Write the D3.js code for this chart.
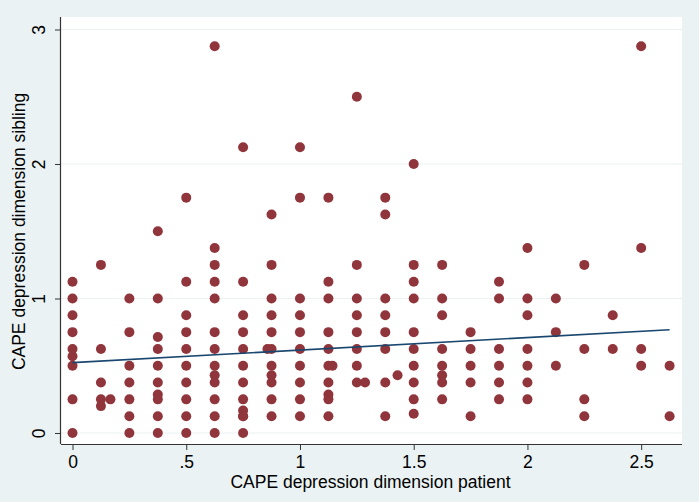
<!DOCTYPE html>
<html><head><meta charset="utf-8">
<script src="https://cdn.jsdelivr.net/npm/d3@7/dist/d3.min.js"></script>
<style>body{margin:0;background:#eaf2f3;}svg{display:block;font-family:"Liberation Sans",Arial,sans-serif;}</style>
</head><body>
<script>
// x = CAPE depression dimension patient, y = CAPE depression dimension sibling
const xValues = [
 0,0,0,0,0,0,0,0,0,
 0.125,0.125,0.125,0.125,0.125,0.1667,
 0.25,0.25,0.25,0.25,0.25,0.25,0.25,
 0.375,0.375,0.375,0.375,0.375,0.375,0.375,0.375,0.375,0.375,
 0.5,0.5,0.5,0.5,0.5,0.5,0.5,0.5,0.5,0.5,
 0.625,0.625,0.625,0.625,0.625,0.625,0.625,0.625,0.625,0.625,0.625,0.625,0.625,
 0.75,0.75,0.75,0.75,0.75,0.75,0.75,0.75,0.75,0.75,0.75,0.75,
 0.857,
 0.875,0.875,0.875,0.875,0.875,0.875,0.875,0.875,0.875,0.875,0.875,
 1,1,1,1,1,1,1,1,1,1,
 1.125,1.125,1.125,1.125,1.125,1.125,1.125,1.125,1.125,1.125,1.143,
 1.25,1.25,1.25,1.25,1.25,1.25,1.25,1.25,1.286,
 1.375,1.375,1.375,1.375,1.375,1.375,1.375,1.375,1.429,
 1.5,1.5,1.5,1.5,1.5,1.5,1.5,1.5,1.5,1.5,
 1.625,1.625,1.625,1.625,1.625,1.625,1.625,1.625,
 1.75,1.75,1.75,1.75,1.75,
 1.875,1.875,1.875,1.875,1.875,1.875,
 2,2,2,2,2,2,2,
 2.125,2.125,2.125,
 2.25,2.25,2.25,2.25,
 2.375,2.375,
 2.5,2.5,2.5,2.5,
 2.625,2.625
];
const yValues = [
 1.125,1,0.875,0.75,0.625,0.571,0.5,0.25,0,
 1.25,0.625,0.375,0.25,0.2,0.25,
 1,0.75,0.5,0.375,0.25,0.125,0,
 1.5,1,0.714,0.625,0.5,0.375,0.286,0.25,0.125,0,
 1.75,1.125,0.875,0.75,0.625,0.5,0.375,0.25,0.125,0,
 2.875,1.375,1.25,1.125,1,0.75,0.625,0.5,0.429,0.375,0.25,0.125,0,
 2.125,1.125,0.875,0.75,0.625,0.5,0.375,0.25,0.167,0.125,0,0.125,
 0.625,
 1.625,1.25,1,0.875,0.75,0.625,0.5,0.429,0.375,0.25,0.125,
 2.125,1.75,1,0.875,0.75,0.625,0.5,0.375,0.25,0.125,
 1.75,1.125,1,0.75,0.625,0.5,0.375,0.286,0.25,0.125,0.5,
 2.5,1.25,1,0.875,0.75,0.625,0.5,0.375,0.375,
 1.75,1.625,1,0.875,0.75,0.625,0.375,0.125,0.429,
 2,1.25,1.125,1,0.75,0.625,0.5,0.375,0.25,0.143,
 1.25,1,0.875,0.625,0.5,0.429,0.375,0.25,
 0.75,0.625,0.5,0.375,0.125,
 1.125,1,0.625,0.5,0.375,0.25,
 1.375,1,0.875,0.625,0.5,0.375,0.25,
 1,0.75,0.5,
 1.25,0.625,0.25,0.125,
 0.875,0.625,
 2.875,1.375,0.625,0.5,
 0.5,0.125
];
// fitted line endpoints
const fitX = [0, 2.625];
const fitY = [0.523, 0.768];
const xTicks = [0, 0.5, 1, 1.5, 2, 2.5];
const xTickLabels = ["0", ".5", "1", "1.5", "2", "2.5"];
const yTicks = [0, 1, 2, 3];
const yTickLabels = ["0", "1", "2", "3"];

const W = 699, H = 502;
const L = 61, R = 682, T = 17, B = 444;
const FS = 17.5;
const svg = d3.select("body").append("svg").attr("width", W).attr("height", H);
svg.append("rect").attr("width", W).attr("height", H).attr("fill", "#eaf2f3");
svg.append("rect").attr("x", L).attr("y", T).attr("width", R - L).attr("height", B - T).attr("fill", "#ffffff");

const x = d3.scaleLinear().domain([-0.0506, 2.6795]).range([L, R]);
const y = d3.scaleLinear().domain([-0.0818, 3.093]).range([B, T]);

// gridlines
svg.append("g").selectAll("line").data(yTicks).join("line")
  .attr("x1", L).attr("x2", R).attr("y1", d => y(d)).attr("y2", d => y(d))
  .attr("stroke", "#eaf2f3").attr("stroke-width", 1.2);

// points
svg.append("g").selectAll("circle").data(xValues.map((v, i) => [v, yValues[i]])).join("circle")
  .attr("cx", d => x(d[0])).attr("cy", d => y(d[1])).attr("r", 5)
  .attr("fill", "#90353b");

// fitted line
svg.append("line")
  .attr("x1", x(fitX[0])).attr("y1", y(fitY[0])).attr("x2", x(fitX[1])).attr("y2", y(fitY[1]))
  .attr("stroke", "#1a476f").attr("stroke-width", 1.6);

// axes
const xAxis = d3.axisBottom(x).tickValues(xTicks).tickFormat((d, i) => xTickLabels[i]).tickSize(6).tickPadding(6).tickSizeOuter(0);
const gx = svg.append("g").attr("transform", `translate(0,${B})`).call(xAxis);
gx.select(".domain").attr("stroke", "#333").attr("stroke-width", 1.2).attr("d", `M${L},0.5H${R}`);
gx.selectAll(".tick line").attr("stroke", "#333");
gx.selectAll("text").attr("font-size", FS).attr("fill", "#000").attr("font-family", "Liberation Sans, Arial, sans-serif");

const yAxis = d3.axisLeft(y).tickValues(yTicks).tickFormat((d, i) => yTickLabels[i]).tickSize(6).tickSizeOuter(0);
const gy = svg.append("g").attr("transform", `translate(${L},0)`).call(yAxis);
gy.select(".domain").attr("stroke", "#333").attr("stroke-width", 1.2).attr("d", `M-0.5,${T}V${B}`);
gy.selectAll(".tick line").attr("stroke", "#333");
gy.selectAll("text").attr("font-size", FS).attr("fill", "#000").attr("font-family", "Liberation Sans, Arial, sans-serif")
  .attr("x", 0).attr("dy", 0).attr("text-anchor", "middle")
  .attr("transform", "translate(-21,0) rotate(-90)")
  .attr("dominant-baseline", "middle");

// axis titles
svg.append("text").attr("x", (L + R) / 2 - 1).attr("y", 488).attr("text-anchor", "middle")
  .attr("font-size", FS).text("CAPE depression dimension patient");
svg.append("text").attr("transform", `translate(20,${(T + B) / 2 + 1}) rotate(-90)`).attr("text-anchor", "middle")
  .attr("dominant-baseline", "middle").attr("font-size", FS).text("CAPE depression dimension sibling");
</script>
</body></html>
